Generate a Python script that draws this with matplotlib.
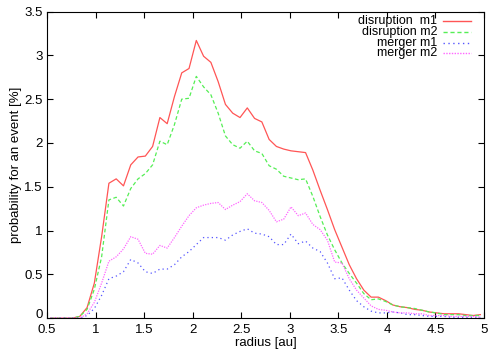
import numpy as np
import matplotlib
matplotlib.use('Agg')
from matplotlib import pyplot as plt
from matplotlib import transforms

plt.rcParams['font.family'] = ['Liberation Sans', 'DejaVu Sans']

# bin centres of radius [au]
radius = [0.5375, 0.6125, 0.6875, 0.7625, 0.8375, 0.9125, 0.9875, 1.0625,
          1.1375, 1.2125, 1.2875, 1.3625, 1.4375, 1.5125, 1.5875, 1.6625,
          1.7375, 1.8125, 1.8875, 1.9625, 2.0375, 2.1125, 2.1875, 2.2625,
          2.3375, 2.4125, 2.4875, 2.5625, 2.6375, 2.7125, 2.7875, 2.8625,
          2.9375, 3.0125, 3.0875, 3.1625, 3.2375, 3.3125, 3.3875, 3.4625,
          3.5375, 3.6125, 3.6875, 3.7625, 3.8375, 3.9125, 3.9875, 4.0625,
          4.1375, 4.2125, 4.2875, 4.3625, 4.4375, 4.5125, 4.5875, 4.6625,
          4.7375, 4.8125, 4.8875, 4.9625]

disruption_m1 = [0, 0, 0, 0, 0.02, 0.12, 0.40, 0.93,
                 1.54, 1.59, 1.51, 1.75, 1.84, 1.85, 1.96, 2.29,
                 2.22, 2.53, 2.80, 2.85, 3.17, 2.99, 2.92, 2.70,
                 2.44, 2.34, 2.29, 2.40, 2.28, 2.24, 2.04, 1.96,
                 1.93, 1.91, 1.90, 1.89, 1.69, 1.46, 1.24, 1.01,
                 0.81, 0.61, 0.45, 0.32, 0.24, 0.24, 0.20, 0.15,
                 0.13, 0.12, 0.10, 0.09, 0.07, 0.06, 0.05, 0.05,
                 0.05, 0.04, 0.03, 0.04]

disruption_m2 = [0, 0, 0, 0, 0.02, 0.10, 0.33, 0.70,
                 1.35, 1.38, 1.28, 1.48, 1.59, 1.65, 1.75, 2.02,
                 1.98, 2.21, 2.50, 2.51, 2.76, 2.64, 2.55, 2.34,
                 2.08, 1.98, 1.94, 2.02, 1.91, 1.88, 1.74, 1.70,
                 1.62, 1.60, 1.58, 1.59, 1.39, 1.16, 0.95, 0.78,
                 0.63, 0.51, 0.40, 0.28, 0.21, 0.22, 0.19, 0.15,
                 0.13, 0.12, 0.11, 0.09, 0.07, 0.06, 0.04, 0.04,
                 0.04, 0.03, 0.03, 0.03]

merger_m1 = [0, 0, 0, 0, 0, 0.03, 0.11, 0.26,
             0.45, 0.48, 0.53, 0.67, 0.63, 0.53, 0.51, 0.56,
             0.56, 0.61, 0.70, 0.76, 0.84, 0.92, 0.92, 0.92,
             0.89, 0.95, 0.99, 1.02, 0.97, 0.96, 0.93, 0.84,
             0.84, 0.96, 0.85, 0.88, 0.80, 0.76, 0.63, 0.45,
             0.46, 0.32, 0.20, 0.13, 0.08, 0.06, 0.06, 0.07,
             0.06, 0.04, 0.04, 0.03, 0.02, 0.02, 0.02, 0.01,
             0.01, 0.01, 0.01, 0.01]

merger_m2 = [0, 0, 0, 0, 0, 0.05, 0.18, 0.40,
             0.65, 0.70, 0.79, 0.93, 0.90, 0.74, 0.73, 0.83,
             0.80, 0.92, 1.05, 1.17, 1.26, 1.29, 1.31, 1.32,
             1.24, 1.29, 1.33, 1.42, 1.34, 1.32, 1.23, 1.10,
             1.13, 1.27, 1.17, 1.20, 1.07, 1.01, 0.89, 0.64,
             0.63, 0.45, 0.32, 0.23, 0.14, 0.10, 0.09, 0.07,
             0.06, 0.06, 0.05, 0.05, 0.03, 0.03, 0.03, 0.02,
             0.02, 0.02, 0.02, 0.01]

labels = ['disruption  m1', 'disruption m2', 'merger m1', 'merger m2']
colors = ['#ff5555', '#55ee55', '#5555ff', '#ff66ff']
dashes = [None, (3, 2), (1, 2.5), (1, 1)]

fig = plt.figure(figsize=(5, 3.5), dpi=100)
ax = fig.add_axes([0.094, 0.091, 0.874, 0.876])

series = [disruption_m1, disruption_m2, merger_m1, merger_m2]
for i, ys in enumerate(series):
  ln, = ax.plot(radius, ys, color=colors[i], lw=0.9)
  if dashes[i] is not None:
    ln.set_dashes(dashes[i])

ax.set_xlim(0.5, 5)
ax.set_ylim(0, 3.5)
ax.set_xticks(np.arange(0.5, 5.01, 0.5))
ax.set_yticks(np.arange(0, 3.51, 0.5))
ax.set_xticklabels(['0.5', '1', '1.5', '2', '2.5', '3', '3.5', '4', '4.5', '5'])
ax.set_yticklabels(['0', '0.5', '1', '1.5', '2', '2.5', '3', '3.5'])
ax.tick_params(direction='in', length=4, width=0.8, top=True, right=True,
               labelsize=9.5)
ax.tick_params(axis='x', pad=4)
ax.tick_params(axis='y', pad=3)
for s in ax.spines.values():
  s.set_linewidth(0.8)
ax.set_xlabel('radius [au]', fontsize=9.5, labelpad=1)
ax.set_ylabel('probability for an event [%]', fontsize=9.5, labelpad=2)

# lift the y "0" a bit so it clears the x "0.5" (as in the gnuplot original)
lab0 = ax.get_yticklabels()[0]
lab0.set_transform(lab0.get_transform() +
                   transforms.ScaledTranslation(0, 3 / 72., fig.dpi_scale_trans))

# gnuplot style key: right aligned text, sample line after it
for i in range(4):
  yk = 0.969 - 0.035 * i
  ax.text(0.893, yk, labels[i], transform=ax.transAxes, ha='right',
          va='center', fontsize=9)
  kl, = ax.plot([0.906, 0.97], [yk, yk], transform=ax.transAxes,
                color=colors[i], lw=1.0, clip_on=False)
  if dashes[i] is not None:
    kl.set_dashes(dashes[i])

fig.savefig('out.png', dpi=100)
